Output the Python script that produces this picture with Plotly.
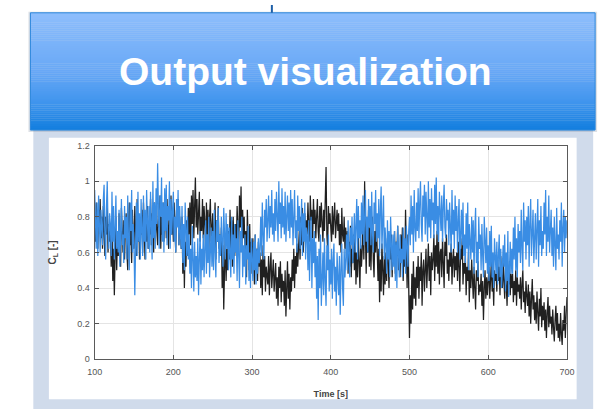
import plotly.graph_objects as go

# ---------------- data ----------------
time_s = list(range(100, 701))

cl_black = [
    0.78, 0.66, 0.88, 0.72, 0.62, 0.84, 0.76, 0.90, 0.68, 0.80,
    0.62, 0.86, 0.74, 0.58, 0.80, 0.70, 0.88, 0.60, 0.76, 0.66,
    0.72, 0.52, 0.78, 0.44, 0.62, 0.36, 0.58, 0.80, 0.50, 0.70,
    0.58, 0.82, 0.66, 0.52, 0.85, 0.70, 0.60, 0.78, 0.56, 0.74,
    0.82, 0.60, 0.50, 0.76, 0.88, 0.64, 0.72, 0.54, 0.84, 0.68,
    0.62, 0.86, 0.74, 0.58, 0.90, 0.66, 0.80, 0.56, 0.78, 0.70,
    0.84, 0.60, 0.88, 0.72, 0.56, 0.80, 0.66, 0.86, 0.62, 0.76,
    0.70, 0.90, 0.64, 0.82, 0.76, 0.60, 0.88, 0.68, 0.84, 0.72,
    0.64, 0.86, 0.74, 0.92, 0.62, 0.80, 0.70, 0.88, 0.66, 0.78,
    0.84, 0.68, 0.90, 0.74, 0.62, 0.86, 0.78, 0.92, 0.70, 0.82,
    0.66, 0.88, 0.72, 0.60, 0.84, 0.78, 0.90, 0.64, 0.80, 0.70,
    0.62, 0.80, 0.48, 0.70, 0.40, 0.66, 0.52, 0.78, 0.58, 0.85,
    0.70, 0.88, 0.64, 0.92, 0.76, 0.95, 0.68, 0.86, 1.02, 0.74,
    0.90, 0.70, 0.84, 0.94, 0.66, 0.80, 0.72, 0.90, 0.68, 0.86,
    0.76, 0.62, 0.88, 0.70, 0.84, 0.60, 0.80, 0.90, 0.66, 0.74,
    0.82, 0.60, 0.72, 0.88, 0.56, 0.78, 0.66, 0.86, 0.62, 0.70,
    0.58, 0.74, 0.40, 0.64, 0.28, 0.52, 0.70, 0.44, 0.62, 0.50,
    0.72, 0.56, 0.84, 0.62, 0.78, 0.52, 0.80, 0.66, 0.58, 0.76,
    0.64, 0.86, 0.70, 0.60, 0.92, 0.74, 0.97, 0.62, 0.84, 0.68,
    0.80, 0.56, 0.72, 0.46, 0.84, 0.60, 0.50, 0.76, 0.54, 0.66,
    0.48, 0.68, 0.56, 0.42, 0.70, 0.50, 0.62, 0.44, 0.66, 0.52,
    0.60, 0.40, 0.56, 0.36, 0.64, 0.46, 0.58, 0.38, 0.52, 0.44,
    0.42, 0.58, 0.36, 0.52, 0.60, 0.40, 0.48, 0.56, 0.38, 0.50,
    0.54, 0.34, 0.46, 0.30, 0.52, 0.40, 0.55, 0.32, 0.48, 0.38,
    0.44, 0.30, 0.50, 0.24, 0.42, 0.55, 0.34, 0.48, 0.28, 0.46,
    0.38, 0.56, 0.44, 0.62, 0.40, 0.58, 0.48, 0.65, 0.52, 0.60,
    0.72, 0.56, 0.80, 0.64, 0.85, 0.60, 0.76, 0.82, 0.66, 0.78,
    0.70, 0.88, 0.74, 0.66, 0.92, 0.78, 0.84, 0.68, 0.90, 0.76,
    0.84, 0.68, 0.80, 0.90, 0.72, 0.66, 0.86, 0.74, 0.88, 0.70,
    0.66, 0.84, 0.72, 0.90, 1.08, 0.70, 0.62, 0.86, 0.76, 0.82,
    0.74, 0.66, 0.86, 0.70, 0.80, 0.88, 0.68, 0.78, 0.84, 0.72,
    0.82, 0.64, 0.76, 0.60, 0.85, 0.70, 0.66, 0.80, 0.62, 0.74,
    0.58, 0.72, 0.48, 0.66, 0.52, 0.75, 0.46, 0.62, 0.54, 0.70,
    0.50, 0.68, 0.42, 0.60, 0.46, 0.70, 0.56, 0.40, 0.64, 0.52,
    0.62, 0.80, 0.56, 1.00, 0.70, 0.48, 0.78, 0.60, 0.84, 0.52,
    0.74, 0.50, 0.68, 0.80, 0.56, 0.46, 0.72, 0.60, 0.78, 0.54,
    0.44, 0.62, 0.32, 0.56, 0.38, 0.65, 0.48, 0.36, 0.58, 0.42,
    0.60, 0.44, 0.68, 0.52, 0.40, 0.64, 0.56, 0.70, 0.46, 0.62,
    0.54, 0.72, 0.48, 0.66, 0.58, 0.75, 0.50, 0.62, 0.46, 0.70,
    0.56, 0.74, 0.44, 0.66, 0.52, 0.84, 0.60, 0.40, 0.70, 0.30,
    0.12, 0.36, 0.20, 0.48, 0.28, 0.55, 0.34, 0.46, 0.30, 0.52,
    0.40, 0.58, 0.34, 0.52, 0.44, 0.60, 0.30, 0.50, 0.56, 0.38,
    0.48, 0.62, 0.40, 0.56, 0.65, 0.44, 0.58, 0.36, 0.60, 0.50,
    0.56, 0.70, 0.44, 0.64, 0.52, 0.72, 0.48, 0.66, 0.42, 0.60,
    0.62, 0.46, 0.68, 0.54, 0.40, 0.66, 0.58, 0.70, 0.48, 0.56,
    0.44, 0.60, 0.52, 0.65, 0.42, 0.56, 0.62, 0.46, 0.58, 0.50,
    0.60, 0.44, 0.66, 0.52, 0.38, 0.62, 0.56, 0.68, 0.42, 0.54,
    0.48, 0.58, 0.36, 0.52, 0.44, 0.60, 0.32, 0.50, 0.40, 0.56,
    0.46, 0.34, 0.52, 0.40, 0.28, 0.50, 0.44, 0.55, 0.36, 0.42,
    0.38, 0.48, 0.30, 0.44, 0.22, 0.40, 0.50, 0.34, 0.46, 0.36,
    0.42, 0.52, 0.34, 0.48, 0.55, 0.38, 0.46, 0.30, 0.50, 0.44,
    0.48, 0.38, 0.56, 0.44, 0.52, 0.36, 0.58, 0.46, 0.40, 0.54,
    0.46, 0.34, 0.52, 0.40, 0.30, 0.50, 0.42, 0.55, 0.36, 0.48,
    0.40, 0.48, 0.32, 0.44, 0.36, 0.50, 0.30, 0.46, 0.38, 0.42,
    0.34, 0.46, 0.28, 0.42, 0.50, 0.32, 0.38, 0.26, 0.44, 0.36,
    0.30, 0.42, 0.24, 0.38, 0.20, 0.34, 0.45, 0.28, 0.36, 0.22,
    0.32, 0.20, 0.38, 0.26, 0.16, 0.34, 0.24, 0.40, 0.18, 0.30,
    0.22, 0.32, 0.16, 0.28, 0.12, 0.26, 0.35, 0.18, 0.30, 0.20,
    0.24, 0.14, 0.28, 0.18, 0.10, 0.22, 0.30, 0.16, 0.26, 0.12,
    0.20, 0.10, 0.26, 0.14, 0.08, 0.22, 0.16, 0.30, 0.12, 0.24,
    0.35,
]

cl_blue = [
    0.95, 0.70, 0.62, 0.88, 0.58, 0.92, 0.76, 0.60, 0.84, 0.72,
    0.64, 0.90, 0.98, 0.70, 0.56, 0.86, 1.00, 0.74, 0.62, 0.82,
    0.76, 0.58, 0.94, 0.66, 0.86, 0.56, 0.80, 0.92, 0.62, 0.72,
    0.60, 0.84, 0.52, 0.76, 0.90, 0.64, 0.70, 0.54, 0.86, 0.68,
    0.80, 0.56, 0.92, 0.66, 0.50, 0.88, 0.72, 0.95, 0.60, 0.76,
    0.64, 0.36, 0.70, 0.88, 0.58, 0.94, 0.66, 0.82, 0.56, 0.90,
    0.72, 0.58, 0.92, 0.66, 0.84, 0.56, 0.95, 0.70, 0.62, 0.86,
    0.60, 0.94, 0.74, 0.56, 1.00, 0.68, 0.88, 0.62, 0.96, 0.76,
    1.10, 0.70, 0.62, 0.92, 0.80, 1.02, 0.66, 0.88, 0.60, 0.96,
    0.72, 0.98, 0.64, 0.86, 0.78, 1.00, 0.62, 0.90, 0.70, 0.84,
    0.94, 0.66, 0.80, 0.60, 0.90, 0.74, 0.95, 0.64, 0.86, 0.70,
    0.62, 0.86, 0.54, 0.76, 0.50, 0.88, 0.66, 0.58, 0.80, 0.56,
    0.70, 0.48, 0.62, 0.40, 0.75, 0.52, 0.38, 0.66, 0.46, 0.58,
    0.44, 0.68, 0.36, 0.56, 0.72, 0.42, 0.62, 0.50, 0.70, 0.46,
    0.60, 0.78, 0.48, 0.70, 0.54, 0.80, 0.46, 0.66, 0.74, 0.52,
    0.72, 0.50, 0.84, 0.60, 0.46, 0.78, 0.66, 0.85, 0.54, 0.70,
    0.58, 0.80, 0.66, 0.52, 0.85, 0.70, 0.56, 0.82, 0.62, 0.76,
    0.50, 0.74, 0.62, 0.46, 0.80, 0.56, 0.70, 0.48, 0.76, 0.60,
    0.68, 0.44, 0.78, 0.54, 0.40, 0.72, 0.60, 0.80, 0.46, 0.64,
    0.52, 0.70, 0.42, 0.64, 0.56, 0.75, 0.44, 0.60, 0.40, 0.68,
    0.58, 0.44, 0.66, 0.50, 0.70, 0.42, 0.62, 0.48, 0.68, 0.54,
    0.62, 0.80, 0.58, 0.88, 0.70, 0.56, 0.84, 0.74, 0.90, 0.66,
    0.78, 0.92, 0.68, 0.86, 0.74, 0.95, 0.70, 0.82, 0.66, 0.90,
    0.72, 0.94, 0.80, 0.66, 1.00, 0.76, 0.88, 0.68, 0.96, 0.74,
    0.86, 0.70, 0.94, 0.66, 0.80, 0.92, 0.72, 0.88, 0.68, 0.95,
    0.74, 0.90, 0.64, 0.84, 0.95, 0.68, 0.78, 0.60, 0.92, 0.72,
    0.86, 0.62, 0.78, 0.90, 0.58, 0.82, 0.66, 0.88, 0.56, 0.74,
    0.70, 0.50, 0.78, 0.44, 0.64, 0.80, 0.40, 0.68, 0.54, 0.72,
    0.46, 0.66, 0.34, 0.58, 0.22, 0.62, 0.40, 0.70, 0.30, 0.52,
    0.60, 0.36, 0.68, 0.44, 0.30, 0.64, 0.50, 0.70, 0.38, 0.56,
    0.42, 0.62, 0.34, 0.56, 0.65, 0.38, 0.52, 0.30, 0.60, 0.46,
    0.36, 0.58, 0.25, 0.50, 0.65, 0.40, 0.30, 0.62, 0.46, 0.56,
    0.70, 0.50, 0.78, 0.58, 0.46, 0.74, 0.64, 0.80, 0.54, 0.68,
    0.82, 0.60, 0.74, 0.90, 0.56, 0.86, 0.68, 0.78, 0.62, 0.88,
    0.70, 0.92, 0.64, 0.84, 0.95, 0.66, 0.80, 0.60, 0.90, 0.74,
    0.86, 0.64, 0.94, 0.72, 0.60, 0.88, 0.76, 0.95, 0.66, 0.82,
    0.68, 0.90, 0.58, 0.84, 0.97, 0.62, 0.78, 0.92, 0.56, 0.74,
    0.64, 0.48, 0.78, 0.56, 0.72, 0.46, 0.80, 0.60, 0.50, 0.70,
    0.52, 0.72, 0.44, 0.66, 0.40, 0.75, 0.58, 0.46, 0.70, 0.54,
    0.62, 0.46, 0.74, 0.56, 0.68, 0.48, 0.75, 0.60, 0.52, 0.72,
    0.80, 0.64, 0.92, 0.70, 0.86, 0.60, 0.95, 0.74, 0.66, 0.88,
    0.72, 0.96, 0.68, 0.88, 1.00, 0.76, 0.66, 0.92, 0.80, 0.98,
    0.70, 0.94, 0.84, 0.66, 1.00, 0.74, 0.90, 0.68, 0.96, 0.78,
    0.88, 0.68, 0.98, 0.76, 1.02, 0.70, 0.86, 0.66, 0.94, 0.80,
    0.72, 0.92, 0.66, 0.86, 0.98, 0.74, 0.68, 0.90, 0.78, 0.84,
    0.64, 0.88, 0.76, 0.60, 0.95, 0.70, 0.84, 0.62, 0.92, 0.72,
    0.86, 0.60, 0.78, 0.90, 0.56, 0.72, 0.84, 0.64, 0.88, 0.58,
    0.70, 0.54, 0.82, 0.62, 0.88, 0.50, 0.76, 0.66, 0.56, 0.80,
    0.60, 0.78, 0.48, 0.72, 0.85, 0.54, 0.66, 0.46, 0.80, 0.62,
    0.70, 0.50, 0.76, 0.58, 0.46, 0.80, 0.62, 0.54, 0.74, 0.48,
    0.64, 0.44, 0.72, 0.52, 0.75, 0.46, 0.60, 0.40, 0.68, 0.56,
    0.48, 0.66, 0.42, 0.58, 0.70, 0.46, 0.62, 0.40, 0.56, 0.64,
    0.52, 0.70, 0.38, 0.60, 0.44, 0.72, 0.35, 0.56, 0.66, 0.48,
    0.62, 0.48, 0.74, 0.56, 0.80, 0.50, 0.68, 0.46, 0.76, 0.60,
    0.72, 0.54, 0.84, 0.62, 0.50, 0.88, 0.66, 0.78, 0.56, 0.80,
    0.64, 0.86, 0.52, 0.76, 0.90, 0.58, 0.70, 0.84, 0.54, 0.74,
    0.82, 0.56, 0.68, 0.90, 0.52, 0.78, 0.64, 0.86, 0.58, 0.72,
    0.62, 0.88, 0.70, 0.95, 0.58, 0.80, 0.66, 0.92, 0.60, 0.76,
    0.84, 0.58, 0.74, 0.52, 0.80, 0.64, 0.50, 0.85, 0.62, 0.70,
    0.56, 0.78, 0.66, 0.88, 0.52, 0.74, 0.84, 0.60, 0.80, 0.68,
    0.78,
]

x_ticks = [100, 200, 300, 400, 500, 600, 700]
y_ticks = [0, 0.2, 0.4, 0.6, 0.8, 1.0, 1.2]
y_tick_labels = ["0", "0.2", "0.4", "0.6", "0.8", "1", "1.2"]

title_text = "Output visualization"
x_title = "Time [s]"
y_title = "C<sub>L</sub> [-]"

# ---------------- layout helpers (page pixel -> paper) ----------------
W, H = 608, 417


def px(x):
    return x / W


def py(y):
    return 1 - y / H


fig = go.Figure()

fig.add_trace(go.Scatter(x=time_s, y=cl_black, mode="lines",
                         line=dict(color="#202020", width=1.25),
                         showlegend=False, hoverinfo="skip"))
fig.add_trace(go.Scatter(x=time_s, y=cl_blue, mode="lines",
                         line=dict(color="#3a8de4", width=1.25),
                         showlegend=False, hoverinfo="skip"))

shapes = []
# light panel
shapes.append(dict(type="rect", xref="paper", yref="paper", layer="below",
                   x0=px(26), x1=px(601), y0=py(414), y1=py(128),
                   fillcolor="#d0dbeb", line=dict(width=0)))
# white picture area
shapes.append(dict(type="rect", xref="paper", yref="paper", layer="below",
                   x0=px(42), x1=px(584), y0=py(404), y1=py(136),
                   fillcolor="#ffffff", line=dict(width=0)))
# header shadow
shapes.append(dict(type="rect", xref="paper", yref="paper", layer="below",
                   x0=px(21), x1=px(605), y0=py(130), y1=py(7),
                   fillcolor="rgba(120,130,150,0.25)", line=dict(width=0)))

# header gradient made of strips
stops = [(0.0, (142, 190, 252)), (0.5, (104, 168, 246)),
         (0.8, (58, 146, 236)), (1.0, (18, 126, 222))]


def grad(f):
    for (f0, c0), (f1, c1) in zip(stops[:-1], stops[1:]):
        if f0 <= f <= f1:
            t = (f - f0) / (f1 - f0)
            return tuple(round(a + (b - a) * t) for a, b in zip(c0, c1))
    return stops[-1][1]


top, bot = 8, 128
n = 60
for i in range(n):
    y0 = top + (bot - top) * i / n
    y1 = top + (bot - top) * (i + 1) / n
    c = grad((i + 0.5) / n)
    shapes.append(dict(type="rect", xref="paper", yref="paper", layer="below",
                       x0=px(23), x1=px(603), y0=py(y1 + 0.3), y1=py(y0),
                       fillcolor="rgb(%d,%d,%d)" % c, line=dict(width=0)))
# header outline
shapes.append(dict(type="rect", xref="paper", yref="paper", layer="below",
                   x0=px(23), x1=px(603), y0=py(128), y1=py(8),
                   fillcolor="rgba(0,0,0,0)", line=dict(color="#2a86dc", width=1)))
# connector line on top
shapes.append(dict(type="line", xref="paper", yref="paper", layer="below",
                   x0=px(271), x1=px(271), y0=py(8), y1=py(0),
                   line=dict(color="#1d5fa8", width=2)))

fig.update_layout(
    width=W, height=H,
    margin=dict(l=0, r=0, t=0, b=0),
    paper_bgcolor="white",
    plot_bgcolor="white",
    shapes=shapes,
    showlegend=False,
    annotations=[
        dict(text="<b>" + title_text + "</b>", xref="paper", yref="paper",
             x=px(306), y=py(68), xanchor="center", yanchor="middle",
             showarrow=False,
             font=dict(family="Liberation Sans, Arial", size=39, color="white"),
             ),
    ],
    xaxis=dict(
        domain=[px(89), px(574)], range=[100, 700],
        tickvals=x_ticks, ticks="inside", ticklen=4, tickcolor="#555",
        ticklabelstandoff=4,
        showline=True, linecolor="#5a5a5a", linewidth=1.3, mirror="ticks",
        showgrid=True, gridcolor="#e4e4e4", gridwidth=1, zeroline=False,
        tickfont=dict(family="Liberation Sans, Arial", size=9, color="#555"),
        title=dict(text="<b>" + x_title + "</b>", standoff=14,
                   font=dict(family="Liberation Sans, Arial", size=9, color="#444")),
    ),
    yaxis=dict(
        domain=[py(363), py(144)], range=[0, 1.2],
        tickvals=y_ticks, ticktext=y_tick_labels, ticks="inside", ticklen=4,
        tickcolor="#555", ticklabelstandoff=2,
        showline=True, linecolor="#5a5a5a", linewidth=1.3, mirror="ticks",
        showgrid=True, gridcolor="#e4e4e4", gridwidth=1, zeroline=False,
        tickfont=dict(family="Liberation Sans, Arial", size=9, color="#555"),
        title=dict(text="<b>" + y_title + "</b>", standoff=18,
                   font=dict(family="Liberation Sans, Arial", size=10, color="#444")),
    ),
)

fig.write_html(
    "out.html",
    config={"displayModeBar": False},
    post_script="document.body.style.margin='0';document.body.style.overflow='hidden';",
)
